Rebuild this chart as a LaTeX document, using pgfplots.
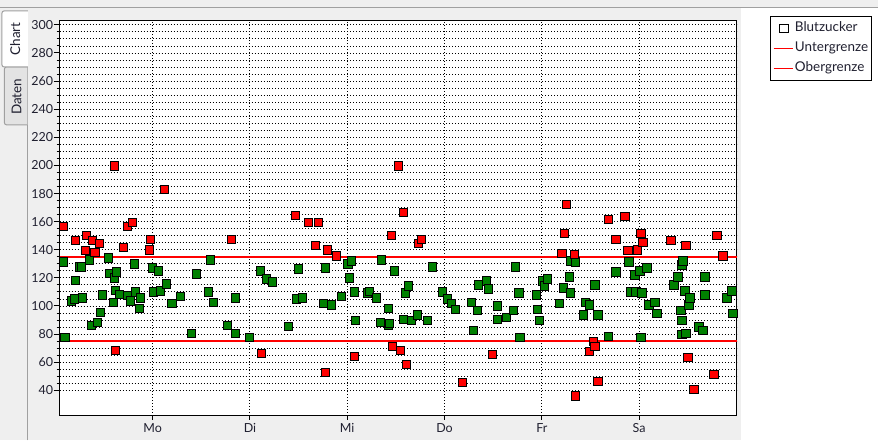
\documentclass[border=0pt]{standalone}
\usepackage{pgfplots}
\pgfplotsset{compat=1.18}
\usetikzlibrary{backgrounds}
\usepackage{fontspec}
\setmainfont{Lato}
\definecolor{bg}{HTML}{EFEFEF}
\definecolor{frame}{HTML}{A0A0A0}
\definecolor{tabgray}{HTML}{E3E3E3}
\definecolor{mygreen}{HTML}{008000}
\definecolor{txt}{HTML}{202030}
\begin{document}
\begin{tikzpicture}[x=1bp,y=1bp]
\begin{axis}[
  at={(59.3,24.9)}, anchor=south west, scale only axis,
  width=678bp, height=395.4bp,
  xmin=0.045, xmax=7.006, ymin=22, ymax=303,
  axis background/.style={fill=white},
  xtick={1,2,3,4,5,6}, xticklabels={Mo,Di,Mi,Do,Fr,Sa},
  ytick={40,60,...,300}, minor y tick num=3,
  tick pos=left,
  tick align=outside,
  major tick length=6bp, minor tick length=3bp,
  xtick style={/pgfplots/major tick length=4bp},
  xmajorgrids, ymajorgrids, yminorgrids,
  major grid style={black, line width=0.9bp, dash pattern=on 1bp off 2bp},
  minor grid style={black, line width=0.9bp, dash pattern=on 1bp off 2bp},
  axis line style={black, line width=1bp},
  tick style={black, line width=1bp},
  ticklabel style={font=\fontsize{12.5bp}{15bp}\selectfont, text=txt},
  yticklabel style={inner xsep=0.5bp},
  xticklabel style={inner ysep=2bp},
  /pgf/number format/assume math mode=true,
  clip=false,
  legend image code/.code={\draw[mark repeat=2, mark phase=2, #1] plot coordinates {(0bp,0bp) (10.5bp,0bp) (19bp,0bp)};},
  legend style={at={(1.0493,1.0119)}, anchor=north west, draw=black, line width=1bp,
    fill=white, font=\fontsize{13.5bp}{16bp}\selectfont, text=txt,
    inner xsep=2bp, inner ysep=4bp, row sep=3.8bp,
    nodes={inner sep=1.5bp, text height=10bp, text depth=3.2bp},
    cells={anchor=west}},
]
\addlegendimage{only marks, mark=square*, mark size=4.2bp, mark options={draw=black, fill=white, line width=1bp}}
\addlegendentry{Blutzucker}
\addlegendimage{draw=red, line width=1.6bp}
\addlegendentry{Untergrenze}
\addlegendimage{draw=red, line width=1.6bp}
\addlegendentry{Obergrenze}
\addplot[draw=red, line width=1.6bp, forget plot] coordinates {(0.045,75) (7.006,75)};
\addplot[draw=red, line width=1.6bp, forget plot] coordinates {(0.045,135) (7.006,135)};
\addplot[only marks, mark=square*, mark size=4.2bp, mark options={fill=mygreen, draw=black, line width=0.9bp}, forget plot] table {
x y
0.086 131.4
0.097 77.6
0.165 103.7
0.199 104.9
0.209 118.0
0.247 127.8
0.271 127.8
0.281 105.6
0.353 132.8
0.374 86.2
0.432 88.4
0.466 95.6
0.487 107.8
0.548 134.3
0.555 123.3
0.600 102.7
0.607 120.0
0.620 110.9
0.630 124.2
0.661 108.0
0.740 107.5
0.774 103.7
0.815 130.0
0.825 110.1
0.867 98.4
0.877 105.6
1.000 127.1
1.007 110.1
1.062 125.0
1.082 110.6
1.144 115.6
1.197 102.0
1.287 107.0
1.400 80.5
1.452 122.8
1.575 109.9
1.595 132.8
1.626 102.7
1.770 86.2
1.852 105.6
1.852 80.5
1.996 77.6
2.109 125.0
2.170 119.2
2.232 117.1
2.398 85.5
2.478 104.9
2.499 126.4
2.540 105.6
2.756 102.0
2.776 127.1
2.838 100.6
2.940 107.0
3.009 130.0
3.023 120.0
3.043 132.1
3.074 109.9
3.084 89.8
3.207 109.2
3.228 110.4
3.300 105.6
3.341 88.4
3.351 132.8
3.423 98.4
3.423 86.0
3.433 87.7
3.485 125.0
3.577 90.6
3.598 109.2
3.628 114.2
3.659 89.9
3.721 93.5
3.823 89.9
3.875 127.8
3.977 109.9
4.029 104.9
4.070 102.0
4.111 97.7
4.275 102.7
4.296 82.7
4.337 97.0
4.347 114.9
4.429 117.8
4.450 112.0
4.542 99.9
4.542 90.6
4.634 92.0
4.706 97.0
4.727 127.8
4.765 109.2
4.775 77.6
4.943 107.8
4.953 97.7
4.973 89.9
5.004 117.8
5.025 114.2
5.055 119.2
5.179 102.0
5.220 112.8
5.281 120.7
5.292 132.1
5.292 109.2
5.343 131.4
5.425 93.5
5.446 102.7
5.487 100.6
5.548 114.9
5.579 93.5
5.682 78.3
5.764 124.2
5.897 131.4
5.918 109.9
5.959 122.2
5.969 109.9
6.010 125.0
6.021 77.6
6.031 109.2
6.082 127.1
6.103 100.6
6.164 102.7
6.185 94.9
6.359 114.9
6.400 120.7
6.431 97.0
6.442 129.3
6.452 132.1
6.442 89.9
6.442 79.8
6.472 110.6
6.483 80.5
6.513 100.6
6.524 105.6
6.616 85.0
6.657 82.7
6.678 120.7
6.678 107.8
6.904 105.6
6.955 110.6
6.965 94.9
};
\addplot[only marks, mark=square*, mark size=4.2bp, mark options={fill=red, draw=black, line width=0.9bp}, forget plot] table {
x y
0.086 156.7
0.209 146.7
0.312 139.3
0.322 150.3
0.384 146.5
0.405 138.0
0.456 144.3
0.610 199.5
0.620 68.3
0.702 141.5
0.740 156.5
0.795 159.4
0.969 140.0
0.979 147.2
1.123 183.0
1.811 147.2
2.119 66.2
2.468 164.4
2.602 159.4
2.674 142.9
2.704 159.4
2.776 52.6
2.797 140.0
2.889 135.5
3.074 64.0
3.454 150.0
3.464 71.2
3.526 199.5
3.546 68.3
3.577 166.5
3.608 58.3
3.731 144.3
3.762 147.2
4.183 45.4
4.491 65.5
5.209 137.2
5.230 151.5
5.251 172.3
5.333 136.7
5.343 36.1
5.487 67.6
5.528 74.8
5.548 71.2
5.579 46.1
5.682 161.5
5.764 147.2
5.856 163.7
5.887 139.3
5.980 140.0
6.021 151.5
6.041 145.0
6.329 146.5
6.483 142.9
6.503 63.3
6.565 40.5
6.770 51.2
6.801 150.0
6.862 135.5
};
\coordinate (c0) at (rel axis cs:0,0);
\end{axis}
\begin{scope}[on background layer, shift={(c0)}, xshift=-59.3bp, yshift=-24.9bp]
\fill[bg] (0,0) rectangle (878,441);
\fill[white] (741,0) rectangle (878,433);
\draw[frame, line width=1bp] (0,433.5) -- (878,433.5);
\draw[frame, line width=1bp] (27,0) -- (27,430);
\draw[frame, line width=1bp, fill=tabgray, rounded corners=2bp] (27,316) -- (4,316) -- (4,374) -- (27,374);
\draw[frame, line width=1bp, fill=white, rounded corners=2bp] (27.5,374) -- (1.5,374) -- (1.5,430) -- (27.5,430);
\node[rotate=90, text=txt, font=\fontsize{13.5bp}{16bp}\selectfont] at (14.8,402) {Chart};
\node[rotate=90, text=txt, font=\fontsize{13.5bp}{16bp}\selectfont] at (16,344) {Daten};
\end{scope}
\end{tikzpicture}
\end{document}
